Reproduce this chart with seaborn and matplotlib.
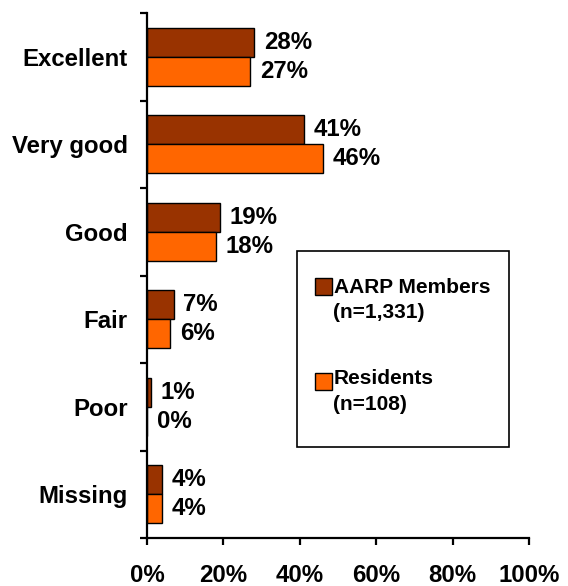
import matplotlib
matplotlib.use("Agg")
import matplotlib.pyplot as plt
from matplotlib.patches import Rectangle
import seaborn as sns
import pandas as pd

categories = ["Excellent", "Very good", "Good", "Fair", "Poor", "Missing"]
aarp_members = [28, 41, 19, 7, 1, 4]
residents = [27, 46, 18, 6, 0, 4]
series_names = ["AARP Members", "Residents"]
legend_labels = [["AARP Members", "(n=1,331)"], ["Residents", "(n=108)"]]
x_ticks = [0, 20, 40, 60, 80, 100]
colors = ["#993300", "#FF6600"]

sns.set_theme(style="white")
plt.rcParams["font.family"] = ["Liberation Sans", "DejaVu Sans"]
plt.rcParams["font.weight"] = "bold"
plt.rcParams["text.color"] = "black"
plt.rcParams["xtick.color"] = "black"
plt.rcParams["ytick.color"] = "black"
plt.rcParams["axes.labelcolor"] = "black"

df = pd.DataFrame({
    "category": categories * 2,
    "value": aarp_members + residents,
    "series": [series_names[0]] * len(categories) + [series_names[1]] * len(categories),
})

W, H = 568, 586
fig = plt.figure(figsize=(W / 100, H / 100), dpi=100)
ax = fig.add_axes([147 / W, 1 - 538 / H, (529 - 147) / W, (538 - 13) / H])

sns.barplot(data=df, y="category", x="value", hue="series", order=categories,
            hue_order=series_names, palette=colors, orient="h", width=0.66,
            edgecolor="black", linewidth=1.0, ax=ax, legend=False, saturation=1)

ax.set_xlim(0, 100)
ax.set_ylim(len(categories) - 0.5, -0.5)
ax.set_xlabel("")
ax.set_ylabel("")

for spine in ["top", "right"]:
    ax.spines[spine].set_visible(False)
for spine in ["left", "bottom"]:
    ax.spines[spine].set_color("black")
    ax.spines[spine].set_linewidth(1.6)

FS = 17.3
ax.set_xticks(x_ticks)
ax.set_xticklabels([f"{t}%" for t in x_ticks], fontsize=FS, fontweight="bold", color="black")
ax.tick_params(axis="x", direction="out", length=5, width=1.6, color="black", pad=14, bottom=True)

ax.set_yticks(range(len(categories)))
ax.set_yticklabels(categories, fontsize=FS, fontweight="bold", color="black")
ax.tick_params(axis="y", which="major", length=0, pad=14)
ax.set_yticks([i - 0.5 for i in range(len(categories) + 1)], minor=True)
ax.tick_params(axis="y", which="minor", direction="out", length=5, width=1.6, color="black", left=True)

for container in ax.containers:
    ax.bar_label(container, labels=[f"{v:.0f}%" for v in container.datavalues],
                 padding=7, fontsize=FS, fontweight="bold", color="black")

# legend box
fig.add_artist(Rectangle((297 / W, 1 - 447 / H), (509 - 297) / W, (447 - 251) / H,
                         transform=fig.transFigure, fill=False, edgecolor="black", linewidth=1.2))
marker_tops = [278, 373]
line_centers = [(287, 312), (379, 405)]
for i in range(2):
    fig.add_artist(Rectangle((315 / W, 1 - (marker_tops[i] + 17) / H), 17 / W, 17 / H,
                             transform=fig.transFigure, facecolor=colors[i],
                             edgecolor="black", linewidth=1.0))
    fig.text(334 / W, 1 - line_centers[i][0] / H, legend_labels[i][0], fontsize=15,
             fontweight="bold", va="center", ha="left", color="black")
    fig.text(333 / W, 1 - line_centers[i][1] / H, legend_labels[i][1], fontsize=15,
             fontweight="bold", va="center", ha="left", color="black")

fig.savefig("out.png", dpi=100)
